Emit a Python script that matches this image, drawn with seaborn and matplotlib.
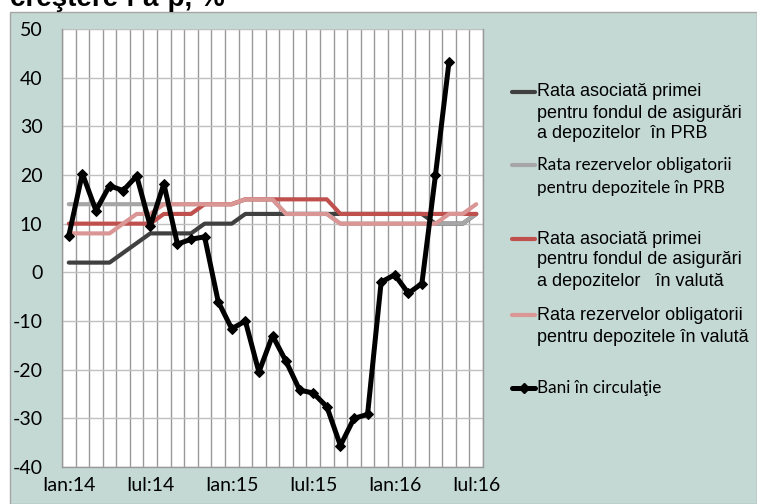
import numpy as np
import pandas as pd
import matplotlib
matplotlib.use("Agg")
import matplotlib.pyplot as plt
from matplotlib.lines import Line2D
from matplotlib.patches import Rectangle
import seaborn as sns

# luni Ian:14 ... Iul:16
months = ["Ian:14", "Feb:14", "Mar:14", "Apr:14", "Mai:14", "Iun:14", "Iul:14", "Aug:14",
          "Sep:14", "Oct:14", "Noi:14", "Dec:14",
          "Ian:15", "Feb:15", "Mar:15", "Apr:15", "Mai:15", "Iun:15", "Iul:15", "Aug:15",
          "Sep:15", "Oct:15", "Noi:15", "Dec:15",
          "Ian:16", "Feb:16", "Mar:16", "Apr:16", "Mai:16", "Iun:16", "Iul:16"]
tick_labels = ["Ian:14", "Iul:14", "Ian:15", "Iul:15", "Ian:16", "Iul:16"]

prima_prb = [2, 2, 2, 2, 4, 6, 8, 8, 8, 8, 10, 10,
             10, 12, 12, 12, 12, 12, 12, 12, 12, 12, 12, 12,
             12, 12, 12, 10, 10, 10, 12]
rezerve_prb = [14, 14, 14, 14, 14, 14, 14, 14, 14, 14, 14, 14,
               14, 15, 15, 15, 12, 12, 12, 12, 10, 10, 10, 10,
               10, 10, 10, 10, 10, 10, 12]
prima_valuta = [10, 10, 10, 10, 10, 10, 10, 12, 12, 12, 14, 14,
                14, 15, 15, 15, 15, 15, 15, 15, 12, 12, 12, 12,
                12, 12, 12, 12, 12, 12, 12]
rezerve_valuta = [8, 8, 8, 8, 10, 12, 12, 14, 14, 14, 14, 14,
                  14, 15, 15, 15, 12, 12, 12, 12, 10, 10, 10, 10,
                  10, 10, 10, 10, 12, 12, 14]
bani_circulatie = [7.5, 20.3, 12.7, 17.8, 16.8, 19.8, 9.5, 18.2, 5.8, 6.8, 7.3, -6.0,
                   -11.6, -10.0, -20.5, -13.0, -18.3, -24.2, -24.8, -27.6, -35.6, -30.0, -29.2, -2.0,
                   -0.5, -4.3, -2.3, 20.0, 43.3, np.nan, np.nan]

W, H = 757, 504
def fx(px):
    return px / W
def fy(py):
    return 1 - py / H

df = pd.DataFrame({
    "pos": np.arange(len(months)),
    "prima_prb": prima_prb,
    "rezerve_prb": rezerve_prb,
    "prima_valuta": prima_valuta,
    "rezerve_valuta": rezerve_valuta,
    "bani": bani_circulatie,
})

sns.set_style("white")
plt.rcParams["font.family"] = ["Liberation Sans", "DejaVu Sans"]
plt.rcParams["text.color"] = "black"
plt.rcParams["xtick.color"] = "black"
plt.rcParams["ytick.color"] = "black"
plt.rcParams["axes.unicode_minus"] = False

fig = plt.figure(figsize=(W / 100, H / 100), dpi=100)
fig.patch.set_facecolor("white")

# fundal verde
fig.patches.append(Rectangle((fx(10), 0), 1 - fx(10), fy(12), transform=fig.transFigure,
                             facecolor="#c4d9d3", edgecolor="#a6a6a6", linewidth=1, zorder=-5))
fig.text(fx(10), fy(6), "creştere f a-p, %", fontsize=20, fontweight="bold",
         va="baseline", ha="left")

ax = fig.add_axes([fx(62), fy(467), fx(483) - fx(62), fy(29) - fy(467)])
ax.set_zorder(2)
ax.set_facecolor("white")

series = [
    ("prima_prb", "#404040"),
    ("rezerve_prb", "#a6a6a6"),
    ("prima_valuta", "#c0504d"),
    ("rezerve_valuta", "#da9694"),
]
for col, color in series:
    sns.lineplot(data=df, x="pos", y=col, color=color, linewidth=3, ax=ax,
                 solid_joinstyle="round")
sns.lineplot(data=df, x="pos", y="bani", color="black", linewidth=3.6, marker="D",
             markersize=5.5, markeredgecolor="black", ax=ax, solid_joinstyle="round")

ax.set_xlim(-0.5, len(months) - 0.5)
ax.set_ylim(-40, 50)
ax.set_yticks(np.arange(-40, 51, 10))
ax.set_xticks([months.index(t) for t in tick_labels])
ax.set_xticklabels(tick_labels)
ax.set_xticks(np.arange(-0.5, len(months), 1), minor=True)
ax.grid(True, axis="x", which="minor", color="#999999", linewidth=1)
ax.grid(True, axis="y", which="major", color="#c0c0c0", linewidth=1)
ax.grid(False, axis="x", which="major")
ax.set_axisbelow(True)
ax.tick_params(axis="both", which="both", length=0)
ax.tick_params(axis="y", pad=14, labelsize=14)
ax.tick_params(axis="x", pad=7, labelsize=14)
for lab in ax.get_xticklabels() + ax.get_yticklabels():
    lab.set_family(["Lato", "DejaVu Sans"])
ax.set_xlabel("")
ax.set_ylabel("")
for side, sp in ax.spines.items():
    sp.set_color("#999999")
    sp.set_linewidth(1)
ax.spines["top"].set_visible(False)

# legenda
arial = ["Liberation Sans", "DejaVu Sans"]
calibri = ["Lato", "DejaVu Sans"]
legend = [
    ("#404040", None, arial, 13, [92, 113, 134],
     ["Rata asociată primei", "pentru fondul de asigurări", "a depozitelor  în PRB"]),
    ("#a6a6a6", None, calibri, 12.3, [165, 188],
     ["Rata rezervelor obligatorii", "pentru depozitele în PRB"]),
    ("#c0504d", None, arial, 13, [239, 260, 282],
     ["Rata asociată primei", "pentru fondul de asigurări", "a depozitelor   în valută"]),
    ("#da9694", None, arial, 13, [315, 337],
     ["Rata rezervelor obligatorii", "pentru depozitele în valută"]),
    ("black", "D", calibri, 12.3, [388],
     ["Bani în circulaţie"]),
]
for color, mk, fam, fs, ys, lines in legend:
    lw = 3.6 if mk else 3
    fig.add_artist(Line2D([fx(512), fx(535)], [fy(ys[0]), fy(ys[0])], color=color,
                          linewidth=lw, transform=fig.transFigure))
    if mk:
        fig.add_artist(Line2D([fx(523.5)], [fy(ys[0])], color=color, marker=mk,
                              markersize=5.5, transform=fig.transFigure))
    for y, txt in zip(ys, lines):
        fig.text(fx(537), fy(y), txt, fontsize=fs, family=fam, va="center", ha="left")

fig.savefig("out.png", dpi=100)
